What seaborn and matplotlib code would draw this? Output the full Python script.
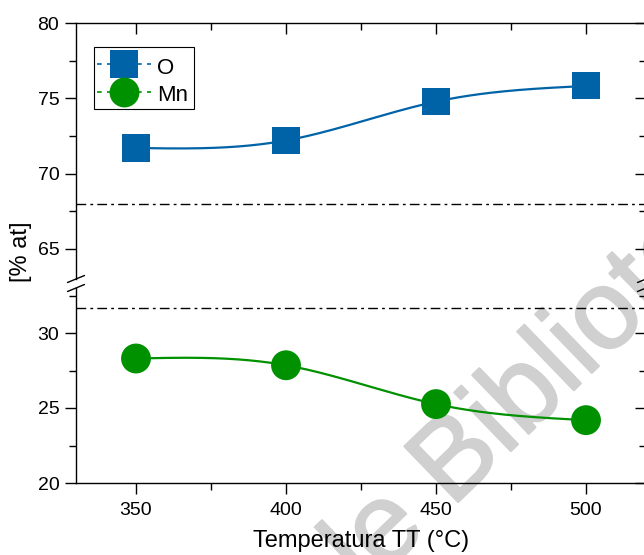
import numpy as np
import matplotlib
matplotlib.use("Agg")
import matplotlib.pyplot as plt
import matplotlib.patheffects as pe
from matplotlib.lines import Line2D
from matplotlib.patches import Rectangle
from matplotlib.ticker import MultipleLocator
import seaborn as sns

# ---- data ----
temps = [350, 400, 450, 500]
o_vals = [71.7, 72.2, 74.78, 75.82]
mn_vals = [28.3, 27.85, 25.26, 24.19]
series_names = ["O", "Mn"]
ref_top = 68.0
ref_bottom = 31.7
x_label = "Temperatura TT (°C)"
y_label = "[% at]"
watermark = "le Biblioteca"

BLUE = "#0063A8"
GREEN = "#009100"

sns.set_theme(style="white")
plt.rcParams["font.family"] = ["Liberation Sans", "DejaVu Sans"]
plt.rcParams["text.color"] = "black"
plt.rcParams["axes.labelcolor"] = "black"
plt.rcParams["xtick.color"] = "black"
plt.rcParams["ytick.color"] = "black"


def natural_spline(x, y, n=200):
    x = np.asarray(x, float); y = np.asarray(y, float)
    k = len(x); h = np.diff(x)
    A = np.zeros((k, k)); b = np.zeros(k)
    A[0, 0] = 1; A[-1, -1] = 1
    for i in range(1, k - 1):
        A[i, i - 1] = h[i - 1]; A[i, i] = 2 * (h[i - 1] + h[i]); A[i, i + 1] = h[i]
        b[i] = 3 * ((y[i + 1] - y[i]) / h[i] - (y[i] - y[i - 1]) / h[i - 1])
    c = np.linalg.solve(A, b)
    xs = np.linspace(x[0], x[-1], n)
    ys = np.empty_like(xs)
    for j, xv in enumerate(xs):
        i = min(np.searchsorted(x, xv, side="right") - 1, k - 2)
        t = xv - x[i]
        bi = (y[i + 1] - y[i]) / h[i] - h[i] * (2 * c[i] + c[i + 1]) / 3
        di = (c[i + 1] - c[i]) / (3 * h[i])
        ys[j] = y[i] + bi * t + c[i] * t ** 2 + di * t ** 3
    return xs, ys


W, H = 644, 555
fig = plt.figure(figsize=(W / 100, H / 100), dpi=100)
L, R = 76 / W, 646 / W
ax_t = fig.add_axes([L, 1 - 279 / H, R - L, (279 - 23) / H])
ax_b = fig.add_axes([L, 1 - 483 / H, R - L, (483 - 288) / H])

for ax in (ax_t, ax_b):
    ax.set_facecolor("none")
    ax.set_xlim(330, 520)
    ax.xaxis.set_major_locator(MultipleLocator(50))
    ax.xaxis.set_minor_locator(MultipleLocator(25))
    ax.yaxis.set_major_locator(MultipleLocator(5))
    ax.yaxis.set_minor_locator(MultipleLocator(2.5))
    for s in ax.spines.values():
        s.set_color("black"); s.set_linewidth(1.0)
    ax.tick_params(axis="both", which="major", length=8, width=1.0, colors="black",
                   labelcolor="black", labelsize=14, pad=4)
    ax.tick_params(axis="both", which="minor", length=5, width=1.0, colors="black")
    ax.tick_params(axis="y", which="both", left=True, right=True)
    ax.tick_params(axis="y", which="both", direction="out")
    ax.grid(False)

ax_t.set_ylim(63, 80)
ax_b.set_ylim(20, 33)
ax_t.spines["bottom"].set_visible(False)
ax_b.spines["top"].set_visible(False)
ax_t.tick_params(axis="x", which="both", bottom=False, top=True, labelbottom=False, direction="in")
ax_b.tick_params(axis="x", which="both", bottom=True, top=False, labelbottom=True, direction="out")
ax_b.tick_params(axis="x", which="major", pad=6)
for ax in (ax_t, ax_b):
    ax.tick_params(axis="y", which="both", labelright=False)
    for t in ax.yaxis.get_major_ticks() + ax.yaxis.get_minor_ticks():
        t.tick2line.set_marker(matplotlib.lines.TICKLEFT)

# curves
xs, ys = natural_spline(temps, o_vals)
sns.lineplot(x=xs, y=ys, ax=ax_t, color=BLUE, linewidth=1.6, sort=False, zorder=2)
sns.scatterplot(x=temps, y=o_vals, ax=ax_t, marker="s", s=19.5 ** 2, color=BLUE,
                edgecolor="none", zorder=3)
xs, ys = natural_spline(temps, mn_vals)
sns.lineplot(x=xs, y=ys, ax=ax_b, color=GREEN, linewidth=1.6, sort=False, zorder=2)
sns.scatterplot(x=temps, y=mn_vals, ax=ax_b, marker="o", s=21.5 ** 2, color=GREEN,
                edgecolor="none", zorder=3)

ax_t.axhline(ref_top, color="black", linewidth=1.0, linestyle=(0, (7, 3, 2, 3)), zorder=1)
ax_b.axhline(ref_bottom, color="black", linewidth=1.0, linestyle=(0, (7, 3, 2, 3)), zorder=1)

# break marks
dx, dy = 8.5 / W, 3.5 / H
for xpix in (76, 646):
    for ypix in (279, 288):
        xf, yf = xpix / W, 1 - ypix / H
        fig.add_artist(Line2D([xf - dx, xf + dx], [yf - dy, yf + dy], color="black",
                              linewidth=1.0, transform=fig.transFigure))

# legend
handles = [
    Line2D([], [], color=BLUE, linestyle=(0, (2.8, 3.2)), linewidth=1.2, marker="s",
           markersize=19.5, markeredgewidth=0, markerfacecolor=BLUE),
    Line2D([], [], color=GREEN, linestyle=(0, (2.8, 3.2)), linewidth=1.2, marker="o",
           markersize=21.5, markeredgewidth=0, markerfacecolor=GREEN),
]
leg = ax_t.legend(handles, series_names, loc="upper left",
                  bbox_to_anchor=(97 / W, 1 - 55 / H), bbox_transform=fig.transFigure,
                  borderaxespad=0, frameon=False, fontsize=16,
                  handlelength=2.45, handletextpad=0.27, labelspacing=0.15,
                  handleheight=1.2, borderpad=0.0, markerscale=1.0)
for txt in leg.get_texts():
    txt.set_color("black")
fig.add_artist(Rectangle((94 / W, 1 - 109 / H), 100 / W, 62 / H, fill=False,
                         edgecolor="black", linewidth=0.8, transform=fig.transFigure))

fig.text(361 / W, 1 - 541 / H, x_label, ha="center", va="center", fontsize=17, color="black")
fig.text(21 / W, 1 - 252 / H, y_label, ha="center", va="center", rotation=90, fontsize=17,
         color="black")

fig.text(366 / W, 1 - 591 / H, watermark, ha="left", va="baseline", rotation=44,
         rotation_mode="anchor", fontsize=81, color="#d0d0d0", zorder=-5,
         path_effects=[pe.withStroke(linewidth=1.5, foreground="#d0d0d0")])

fig.savefig("out.png", dpi=100, facecolor="white")
